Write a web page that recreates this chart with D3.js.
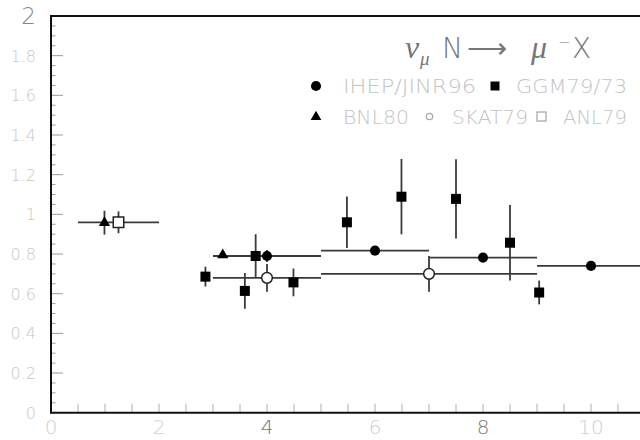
<!DOCTYPE html>
<html><head><meta charset="utf-8">
<script src="https://cdn.jsdelivr.net/npm/d3@7"></script>
<style>
html,body{margin:0;padding:0;background:#fff;overflow:hidden}
text{font-family:"DejaVu Sans","Liberation Sans",sans-serif;font-weight:200}
</style></head>
<body>
<svg id="c" width="640" height="440"></svg>
<script>
// ---- data ----
const xTicks = [0, 2, 4, 6, 8, 10];
const yTicks = [0, 0.2, 0.4, 0.6, 0.8, 1, 1.2, 1.4, 1.6, 1.8, 2];
const yTickLabels = ["0", "0.2", "0.4", "0.6", "0.8", "1", "1.2", "1.4", "1.6", "1.8", "2"];

// IHEP/JINR96 (filled circles)
const ihepX   = [4, 6, 8, 10];
const ihepY   = [0.79, 0.817, 0.782, 0.74];
const ihepErr = [0.03, 0.02, 0.02, 0.012];
const ihepXlo = [3, 5, 7, 9];
const ihepXhi = [5, 7, 9, 11];

// GGM79/73 (filled squares)
const ggmX   = [2.86, 3.59, 3.79, 4.49, 5.48, 6.49, 7.5, 8.5, 9.04];
const ggmY   = [0.686, 0.614, 0.79, 0.657, 0.96, 1.089, 1.078, 0.857, 0.606];
const ggmErr = [0.05, 0.09, 0.11, 0.07, 0.13, 0.19, 0.2, 0.19, 0.06];

// BNL80 (filled triangles)
const bnlX   = [0.99, 3.18];
const bnlY   = [0.958, 0.795];
const bnlErr = [0.06, 0.015];

// SKAT79 (open circles)
const skatX   = [4, 7];
const skatY   = [0.68, 0.70];
const skatErr = [0.07, 0.09];
const skatXlo = [3, 5];
const skatXhi = [5, 9];

// ANL79 (open squares)
const anlX   = [1.25];
const anlY   = [0.96];
const anlErr = [0.055];
const anlXlo = [0.5];
const anlXhi = [2.0];

const legendRow1 = ["IHEP/JINR96", "GGM79/73"];
const legendRow2 = ["BNL80", "SKAT79", "ANL79"];

// ---- drawing ----
const svg = d3.select("#c");
const x = d3.scaleLinear().domain([0, 11]).range([51, 645]);
const y = d3.scaleLinear().domain([0, 2]).range([412.7, 16]);

// minor / major ticks
const g = svg.append("g");
const yMinor = d3.range(0, 2.0001, 0.05);
g.selectAll(".ym").data(yMinor).enter().append("line")
  .attr("x1", x(0)).attr("x2", d => x(0) + (Math.abs(d*5 - Math.round(d*5)) < 1e-6 ? 12 : 4.5))
  .attr("y1", d => y(d)).attr("y2", d => y(d))
  .attr("stroke", "#9a9a9a").attr("stroke-width", 1);
const xMinor = d3.range(0, 11.0001, 0.5);
g.selectAll(".xm").data(xMinor).enter().append("line")
  .attr("x1", d => x(d)).attr("x2", d => x(d))
  .attr("y1", y(0)).attr("y2", y(0) - 9)
  .attr("stroke", "#b0b0b0").attr("stroke-width", 1);

// frame
svg.append("line").attr("x1", x(0)).attr("x2", 645).attr("y1", y(2)).attr("y2", y(2))
  .attr("stroke", "#111").attr("stroke-width", 2);
svg.append("line").attr("x1", x(0)).attr("x2", 645).attr("y1", y(0)).attr("y2", y(0))
  .attr("stroke", "#111").attr("stroke-width", 2);
svg.append("line").attr("x1", x(0)).attr("x2", x(0)).attr("y1", y(2) - 1).attr("y2", y(0) + 1)
  .attr("stroke", "#111").attr("stroke-width", 2);

// axis labels
svg.selectAll(".yl").data(yTicks).enter().append("text")
  .attr("x", 36).attr("y", d => y(d) + (d === 2 ? 8 : 6))
  .attr("text-anchor", "end")
  .attr("font-size", d => d === 2 ? 23 : 16)
  .attr("fill", d => d === 2 ? "#888" : "#c8c8c8")
  .text((d, i) => yTickLabels[i]);
svg.selectAll(".xl").data(xTicks).enter().append("text")
  .attr("x", d => x(d)).attr("y", 434)
  .attr("text-anchor", "middle")
  .attr("font-size", 20)
  .attr("fill", d => (d === 4 || d === 8) ? "#777" : "#cfcfcf")
  .text(d => d);

// error bars
const ec = "#3a3a3a", ew = 1.8;
const eg = svg.append("g").attr("stroke", ec).attr("stroke-width", ew);
function hbars(X, Y, lo, hi) {
  eg.selectAll(null).data(Y).enter().append("line")
    .attr("x1", (d, i) => x(lo[i])).attr("x2", (d, i) => x(hi[i]))
    .attr("y1", d => y(d)).attr("y2", d => y(d));
}
function vbars(X, Y, E) {
  eg.selectAll(null).data(Y).enter().append("line")
    .attr("x1", (d, i) => x(X[i])).attr("x2", (d, i) => x(X[i]))
    .attr("y1", (d, i) => y(d + E[i])).attr("y2", (d, i) => y(d - E[i]));
}
hbars(ihepX, ihepY, ihepXlo, ihepXhi);
hbars(skatX, skatY, skatXlo, skatXhi);
hbars(anlX, anlY, anlXlo, anlXhi);
vbars(ihepX, ihepY, ihepErr);
vbars(ggmX, ggmY, ggmErr);
vbars(bnlX, bnlY, bnlErr);
vbars(skatX, skatY, skatErr);
vbars(anlX, anlY, anlErr);

// markers
const sym = {
  circle: d3.symbol().type(d3.symbolCircle).size(80),
  square: d3.symbol().type(d3.symbolSquare).size(100),
  triangle: d3.symbol().type(d3.symbolTriangle).size(55),
  ocircle: d3.symbol().type(d3.symbolCircle).size(90),
  osquare: d3.symbol().type(d3.symbolSquare).size(110)
};
function marks(X, Y, s, fill, stroke) {
  svg.append("g").selectAll("path").data(Y).enter().append("path")
    .attr("d", sym[s])
    .attr("transform", (d, i) => `translate(${x(X[i])},${y(d)})`)
    .attr("fill", fill).attr("stroke", stroke).attr("stroke-width", stroke === "none" ? 0 : 1.5);
}
marks(ihepX, ihepY, "circle", "#000", "none");
marks(ggmX, ggmY, "square", "#000", "none");
marks(bnlX, bnlY, "triangle", "#000", "none");
marks(skatX, skatY, "ocircle", "#fff", "#222");
marks(anlX, anlY, "osquare", "#fff", "#222");

// reaction label
const t = svg.append("text").attr("y", 58).attr("fill", "#777").attr("font-size", 28);
t.append("tspan").attr("x", 405).attr("font-size", 32).attr("font-style", "italic").attr("font-family", "Liberation Serif").text("ν");
t.append("tspan").attr("x", 420).attr("dy", 7).attr("font-size", 19).attr("font-style", "italic").attr("font-family", "Liberation Serif").text("μ");
t.append("tspan").attr("x", 442).attr("dy", -7).text("N");
t.append("tspan").attr("x", 467).text("⟶");
t.append("tspan").attr("x", 531).attr("font-size", 32).attr("font-style", "italic").attr("font-family", "Liberation Serif").text("μ");
t.append("tspan").attr("x", 558).attr("dy", -11).attr("font-size", 15).text("−");
t.append("tspan").attr("x", 572).attr("dy", 11).text("X");

// legend
const lc = "#c4c4c4";
const lg = svg.append("g");
lg.append("path").attr("d", sym.circle).attr("transform", "translate(316,86)").attr("fill", "#000");
lg.append("text").attr("x", 343).attr("y", 93).attr("font-size", 19).attr("fill", lc)
  .attr("textLength", 133).attr("lengthAdjust", "spacingAndGlyphs").text(legendRow1[0]);
lg.append("path").attr("d", d3.symbol().type(d3.symbolSquare).size(81)).attr("transform", "translate(495,86)").attr("fill", "#000");
lg.append("text").attr("x", 516).attr("y", 93).attr("font-size", 19).attr("fill", lc)
  .attr("textLength", 111).attr("lengthAdjust", "spacingAndGlyphs").text(legendRow1[1]);

lg.append("path").attr("d", d3.symbol().type(d3.symbolTriangle).size(50)).attr("transform", "translate(316,117)").attr("fill", "#000");
lg.append("text").attr("x", 343).attr("y", 124).attr("font-size", 19).attr("fill", lc)
  .attr("textLength", 66).attr("lengthAdjust", "spacingAndGlyphs").text(legendRow2[0]);
lg.append("circle").attr("cx", 429.5).attr("cy", 116.5).attr("r", 3.2).attr("fill", "none").attr("stroke", "#aaa").attr("stroke-width", 1.3);
lg.append("text").attr("x", 452).attr("y", 124).attr("font-size", 19).attr("fill", lc)
  .attr("textLength", 76).attr("lengthAdjust", "spacingAndGlyphs").text(legendRow2[1]);
lg.append("rect").attr("x", 537).attr("y", 112).attr("width", 9).attr("height", 9).attr("fill", "none").attr("stroke", "#aaa").attr("stroke-width", 1.3);
lg.append("text").attr("x", 563).attr("y", 124).attr("font-size", 19).attr("fill", lc)
  .attr("textLength", 64).attr("lengthAdjust", "spacingAndGlyphs").text(legendRow2[2]);
</script>
</body></html>
